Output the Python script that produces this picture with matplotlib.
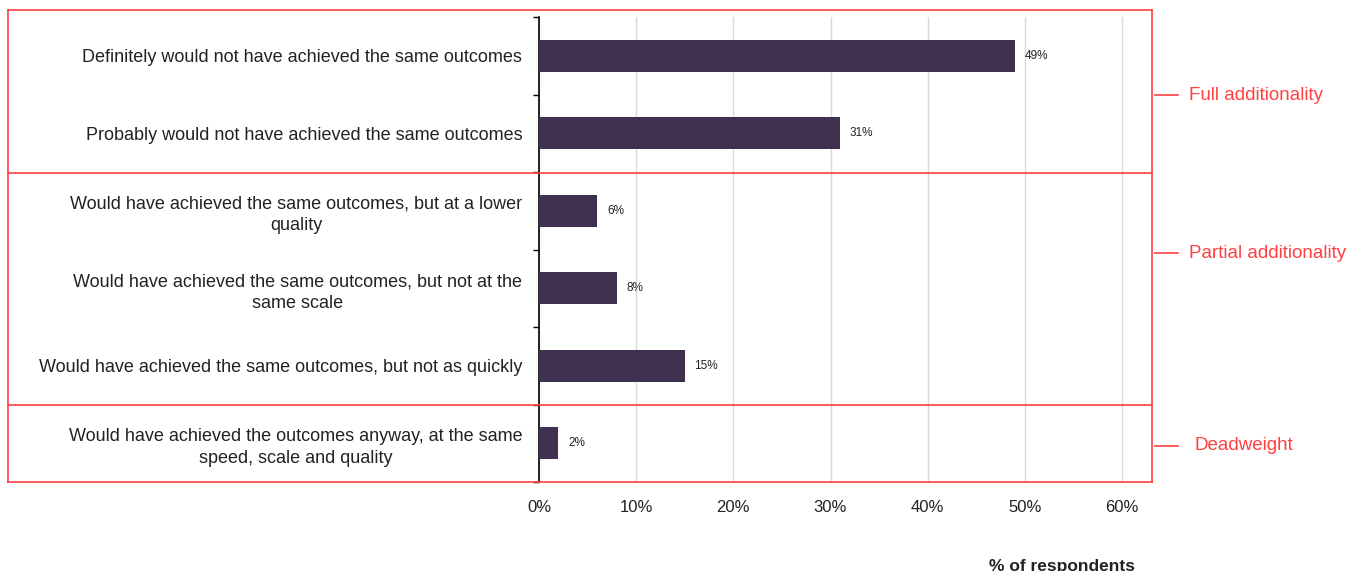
import matplotlib.pyplot as plt
from matplotlib.lines import Line2D
from matplotlib.ticker import FixedLocator

# data
categories = [
    'Definitely would not have achieved the same outcomes',
    'Probably would not have achieved the same outcomes',
    'Would have achieved the same outcomes, but at a lower\nquality',
    'Would have achieved the same outcomes, but not at the\nsame scale',
    'Would have achieved the same outcomes, but not as quickly',
    'Would have achieved the outcomes anyway, at the same\nspeed, scale and quality',
]
values = [49, 31, 6, 8, 15, 2]
x_ticks = [0, 10, 20, 30, 40, 50, 60]
groups = ['Full additionality', 'Partial additionality', 'Deadweight']

W, H = 1349, 571
plt.rcParams['font.family'] = ['Liberation Sans', 'DejaVu Sans']

fig = plt.figure(figsize=(W / 100, H / 100), dpi=100)
# axes runs to the right edge of the red box; 60% gridline sits at x=1122 px
ax = fig.add_axes([539 / W, 1 - 482 / H, (1150 - 539) / W, (482 - 17) / H])

y = list(range(len(categories)))
ax.barh(y, values, height=0.41, color='#3f3050', zorder=3)
for yi, v in zip(y, values):
    ax.text(v + 1, yi, f'{v}%', va='center', ha='left', fontsize=8.5, color='#222222')

ax.set_xlim(0, 60 * (1150 - 539) / (1122 - 539))
ax.set_ylim(len(categories) - 0.5, -0.5)
ax.set_xticks(x_ticks)
ax.set_xticklabels([f'{t}%' for t in x_ticks], fontsize=12, color='#222222')
ax.tick_params(axis='x', length=0, pad=13)
ax.grid(axis='x', color='#d9d9d9', linewidth=1, zorder=0)

ax.set_yticks(y)
ax.set_yticklabels(categories, fontsize=13, color='#222222',
                   multialignment='center', linespacing=1.35)
ax.tick_params(axis='y', which='major', length=0, pad=12)
ax.yaxis.set_minor_locator(FixedLocator([i - 0.5 for i in range(len(categories) + 1)]))
ax.tick_params(axis='y', which='minor', length=4, width=1, color='black')

for s in ['top', 'right', 'bottom']:
    ax.spines[s].set_visible(False)
ax.spines['left'].set_color('black')
ax.spines['left'].set_linewidth(1.2)

fig.text(1062 / W, 1 - 566 / H, '% of respondents', ha='center', va='center',
         fontsize=12.5, fontweight='bold', color='#222222')

# red grouping boxes (pixel coords converted to figure fractions)
red = '#ff4040'


def fline(x0, y0, x1, y1):
    fig.add_artist(Line2D([x0 / W, x1 / W], [1 - y0 / H, 1 - y1 / H],
                          transform=fig.transFigure, color=red, linewidth=1.2))


fline(8, 10, 1152, 10)
fline(8, 173, 1152, 173)
fline(8, 405, 1152, 405)
fline(8, 482, 1152, 482)
fline(8, 10, 8, 482)
fline(1152, 10, 1152, 482)

label_pos = [(95, 1189), (253, 1189), (446, 1194)]
for name, (yy, xx) in zip(groups, label_pos):
    fline(1155, yy, 1178, yy)
    fig.text(xx / W, 1 - yy / H, name, ha='left', va='center', fontsize=13.5, color=red)

fig.savefig('out.png', dpi=100)
